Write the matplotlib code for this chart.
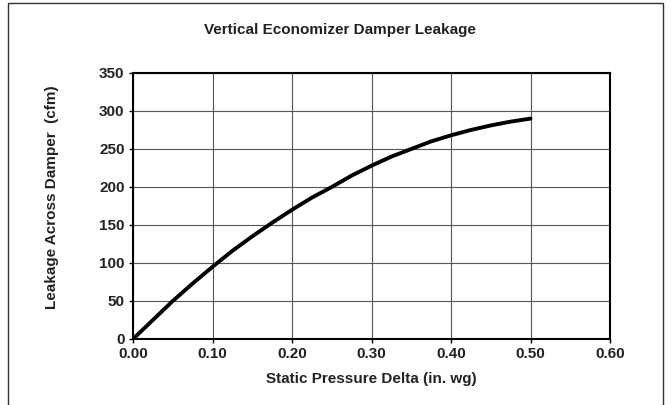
import numpy as np
import matplotlib.pyplot as plt
from matplotlib.patches import Rectangle

plt.rcParams['font.family'] = ['Liberation Sans', 'DejaVu Sans']
plt.rcParams['font.weight'] = 'bold'

pressure = [0.000, 0.025, 0.050, 0.075, 0.100, 0.125, 0.150, 0.175, 0.200, 0.225,
            0.250, 0.275, 0.300, 0.325, 0.350, 0.375, 0.400, 0.425, 0.450, 0.475, 0.500]
leakage = [0, 25, 50, 73, 95, 116, 135, 153, 170, 186,
           200, 215, 228, 240, 250, 260, 268, 275, 281, 286, 290]
x_ticks = [0.0, 0.1, 0.2, 0.3, 0.4, 0.5, 0.6]
y_ticks = [0, 50, 100, 150, 200, 250, 300, 350]

fig = plt.figure(figsize=(6.72, 4.05), dpi=100)
ax = fig.add_axes([133 / 672, 1 - 339 / 405, 477 / 672, 266 / 405])

# outer frame around the chart
fig.patches.append(Rectangle((8 / 672, -0.05), 655 / 672, 1.05 - 3 / 405,
                             transform=fig.transFigure, fill=False,
                             edgecolor='#333333', linewidth=1.0))

ax.plot(pressure, leakage, color='black', linewidth=2.8,
        solid_capstyle='round', solid_joinstyle='round')

ax.set_xlim(0, 0.6)
ax.set_ylim(0, 350)
ax.set_xticks(x_ticks)
ax.set_yticks(y_ticks)
ax.set_xticklabels([f'{v:.2f}' for v in x_ticks])
ax.set_yticklabels([str(v) for v in y_ticks])
ax.tick_params(labelsize=11, length=3, width=1, pad=3, labelcolor='#222222')
ax.grid(True, color='#555555', linewidth=0.8)
ax.set_axisbelow(True)
for s in ax.spines.values():
    s.set_linewidth(1.5)

ax.set_xlabel('Static Pressure Delta (in. wg)', fontsize=11, fontweight='bold',
              labelpad=8, color='#222222')
ax.set_ylabel('Leakage Across Damper  (cfm)', fontsize=11, fontweight='bold',
              color='#222222')
ax.yaxis.set_label_coords(-0.155, 0.534)
fig.text(340 / 672, 1 - 30 / 405, 'Vertical Economizer Damper Leakage',
         ha='center', va='center', fontsize=11, fontweight='bold', color='#222222')

fig.savefig('out.png', dpi=100)
